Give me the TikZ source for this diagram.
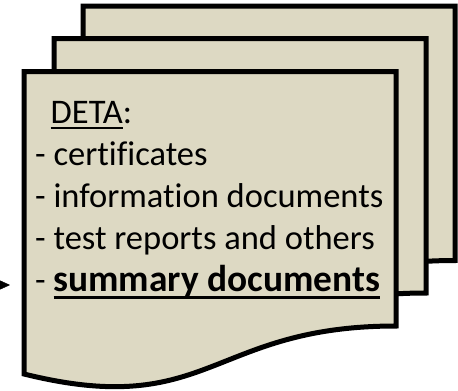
\documentclass[tikz,border=0pt]{standalone}
\usepackage{fontspec}
\setmainfont{Carlito}[Ligatures=NoCommon]
\usepackage{xcolor}
\usetikzlibrary{arrows.meta}
\definecolor{sheetfill}{HTML}{DDD9C3}
% underline: text, depth of the rule's bottom, thickness
\newcommand{\ulined}[3]{\setbox0\hbox{#1}\leavevmode\rlap{\rule[-#2]{\wd0}{#3}}\box0}

\begin{document}
\begin{tikzpicture}[x=1pt,y=-1pt]
\useasboundingbox (0,0) rectangle (458,391);

% sheets, back to front
\foreach \dx/\dy in {59/-65.5,30/-33,0/0}
  \draw[line width=5pt,fill=sheetfill,shift={(\dx,\dy)}]
    (24,71.7) -- (396,71.7) -- (396,326)
    .. controls (210,326) and (210,420) .. (24,374) -- cycle;

% list of documents
\node[anchor=base west,align=left,inner sep=0pt,
      font=\fontsize{34.5}{42.1}\selectfont] (list) at (35,291.7)
  {\hspace*{15.5pt}\ulined{DETA}{5.5pt}{2.2pt}:\\
   - certificates\\
   - information documents\\
   - test reports and others\\
   - \ulined{\fontsize{37.4}{42.1}\selectfont\bfseries summary documents}{7.4pt}{2.8pt}};

% incoming arrow
\coordinate (from) at (0,285);
\coordinate (to) at (10,285);
\draw[-{Triangle[length=10pt,width=9pt]}] (from) -- (to);
\end{tikzpicture}
\end{document}
